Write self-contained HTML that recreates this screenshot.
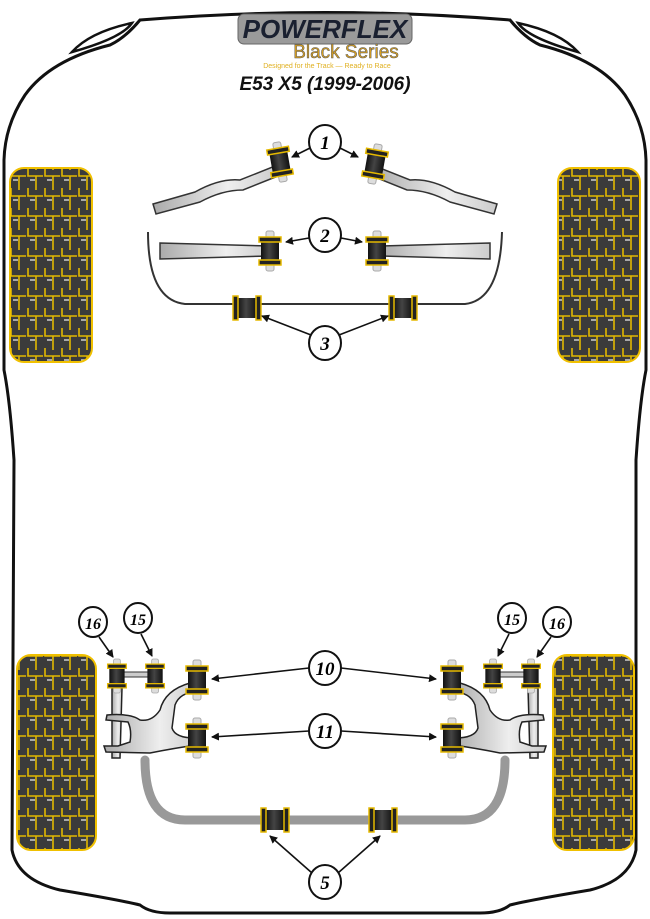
<!DOCTYPE html>
<html><head><meta charset="utf-8"><style>
html,body{margin:0;padding:0;background:#fff;}
svg{display:block;}
.n{font-family:"Liberation Serif",serif;font-weight:bold;font-style:italic;font-size:19px;text-anchor:middle;}
</style></head><body>
<svg width="650" height="919" viewBox="0 0 650 919" xmlns="http://www.w3.org/2000/svg">
<defs>
<pattern id="tread" width="17" height="20" patternUnits="userSpaceOnUse" x="10" y="168">
<rect width="17" height="20" fill="#3b3b3b"/>
<path d="M1 0 V8 H9 V20 M9 0 V2 M9 8 H16" stroke="#e2b800" stroke-width="1.6" fill="none"/>
<path d="M3 12 H8" stroke="#ccc" stroke-width="1.5"/>
</pattern>
<marker id="ar" markerWidth="8" markerHeight="8" refX="7" refY="4" orient="auto" markerUnits="userSpaceOnUse"><path d="M0 0 L8 4 L0 8 Z" fill="#111"/></marker>
<linearGradient id="bk" x1="0" x2="1"><stop offset="0" stop-color="#111"/><stop offset="0.45" stop-color="#444"/><stop offset="1" stop-color="#111"/></linearGradient>
<linearGradient id="gr" x1="0" x2="1"><stop offset="0" stop-color="#aaa"/><stop offset="0.6" stop-color="#eee"/><stop offset="1" stop-color="#ccc"/></linearGradient>
<g id="vb"><!-- vertical bush centered 0,0 -->
<rect x="-4" y="-20" width="8" height="40" rx="2" fill="#ddd" stroke="#aaa"/>
<rect x="-9" y="-12" width="18" height="24" fill="url(#bk)"/>
<rect x="-11" y="-14" width="22" height="5" fill="#222" stroke="#e5b900" stroke-width="1.5"/>
<rect x="-11" y="9" width="22" height="5" fill="#222" stroke="#e5b900" stroke-width="1.5"/>
</g>
<g id="hb"><!-- horizontal bush -->
<rect x="-10" y="-10" width="20" height="20" fill="url(#bk)"/>
<rect x="-14" y="-12" width="5" height="24" fill="#222" stroke="#e5b900" stroke-width="1.5"/>
<rect x="9" y="-12" width="5" height="24" fill="#222" stroke="#e5b900" stroke-width="1.5"/>
</g>
</defs>

<!-- body outline -->
<path d="M140 20 Q325 5 510 20 Q525 38 540 45 Q600 60 625 95 Q645 125 646 160 L646 370 Q640 400 636 460 L636 850 Q630 880 590 890 Q530 900 510 905 Q500 913 480 913 L170 913 Q150 913 140 905 Q120 900 60 890 Q18 880 12 850 L14 460 Q10 400 4 370 L4 160 Q5 125 25 95 Q50 60 110 45 Q125 38 140 20 Z" fill="none" stroke="#111" stroke-width="3"/>
<path d="M72 52 Q90 32 132 23 Q122 38 72 52 Z" fill="none" stroke="#111" stroke-width="2.5"/>
<path d="M578 52 Q560 32 518 23 Q528 38 578 52 Z" fill="none" stroke="#111" stroke-width="2.5"/>

<!-- logo -->
<rect x="238" y="14" width="174" height="30" rx="6" fill="#9a9a9a" stroke="#666"/>
<text x="325" y="38" text-anchor="middle" font-family="Liberation Sans,sans-serif" font-weight="bold" font-style="italic" font-size="26" fill="#1a2030">POWERFLEX</text>
<text x="346" y="58" text-anchor="middle" font-family="Liberation Sans,sans-serif" font-size="19" fill="#d9a020" stroke="#555" stroke-width="0.5">Black Series</text>
<text x="327" y="68" text-anchor="middle" font-family="Liberation Sans,sans-serif" font-size="7" fill="#e0b020">Designed for the Track — Ready to Race</text>
<text x="325" y="90" text-anchor="middle" font-family="Liberation Sans,sans-serif" font-weight="bold" font-style="italic" font-size="19" fill="#111">E53 X5 (1999-2006)</text>

<!-- tyres -->
<rect x="10" y="168" width="82" height="194" rx="14" fill="url(#tread)" stroke="#f0c000" stroke-width="2"/>
<rect x="558" y="168" width="82" height="194" rx="14" fill="url(#tread)" stroke="#f0c000" stroke-width="2"/>
<rect x="17" y="655" width="79" height="195" rx="14" fill="url(#tread)" stroke="#f0c000" stroke-width="2"/>
<rect x="553" y="655" width="81" height="195" rx="14" fill="url(#tread)" stroke="#f0c000" stroke-width="2"/>

<!-- bar 1 -->
<path d="M153 204 L195 192 Q220 178 240 180 L275 166 L278 176 L243 190 Q222 190 200 202 L156 214 Z" fill="url(#gr)" stroke="#333" stroke-width="1.5"/>
<path d="M497 204 L455 192 Q430 178 410 180 L375 166 L372 176 L407 190 Q428 190 450 202 L494 214 Z" fill="url(#gr)" stroke="#333" stroke-width="1.5"/>
<use href="#vb" x="280" y="162" transform="rotate(-10 280 162)"/>
<use href="#vb" x="375" y="164" transform="rotate(10 375 164)"/>

<!-- bar 2 -->
<path d="M148 232 Q148 300 185 304 L465 304 Q500 300 502 232" fill="none" stroke="#333" stroke-width="2"/>
<path d="M160 243 L270 246 L270 256 L160 259 Z" fill="url(#gr)" stroke="#333" stroke-width="1.5"/>
<path d="M490 243 L380 246 L380 256 L490 259 Z" fill="url(#gr)" stroke="#333" stroke-width="1.5"/>
<use href="#vb" x="270" y="251"/>
<use href="#vb" x="377" y="251"/>
<use href="#hb" x="247" y="308"/>
<use href="#hb" x="403" y="308"/>

<!-- lower arms -->
<g fill="url(#gr)" stroke="#222" stroke-width="1.5">
<path d="M112 688 L122 688 L120 758 L112 758 Z"/>
<path d="M107 715 Q130 713 140 720 Q152 722 160 710 Q165 690 190 683 L197 684 L197 692 Q180 692 175 705 L172 728 Q175 738 195 738 L197 745 Q175 748 150 753 L106 752 L104 746 L118 746 L130 742 Q132 730 128 722 L106 720 Z"/>
<path d="M538 688 L528 688 L530 758 L538 758 Z"/>
<path d="M543 715 Q520 713 510 720 Q498 722 490 710 Q485 690 460 683 L453 684 L453 692 Q470 692 475 705 L478 728 Q475 738 455 738 L453 745 Q475 748 500 753 L544 752 L546 746 L532 746 L520 742 Q518 730 522 722 L544 720 Z"/>
</g>
<rect x="120" y="672" width="30" height="5" fill="#ccc" stroke="#333"/>
<rect x="500" y="672" width="30" height="5" fill="#ccc" stroke="#333"/>
<use href="#vb" x="117" y="676" transform="scale(0.85) translate(20.6 119.3)"/>
<use href="#vb" x="155" y="676" transform="scale(0.85) translate(27.4 119.3)"/>
<use href="#vb" x="493" y="676" transform="scale(0.85) translate(87 119.3)"/>
<use href="#vb" x="531" y="676" transform="scale(0.85) translate(93.7 119.3)"/>
<use href="#vb" x="197" y="680"/>
<use href="#vb" x="452" y="680"/>
<use href="#vb" x="197" y="738"/>
<use href="#vb" x="452" y="738"/>

<!-- bar 5 -->
<path d="M145 760 Q145 820 185 820 L465 820 Q505 820 505 760" fill="none" stroke="#999" stroke-width="9" stroke-linecap="round"/>
<use href="#hb" x="275" y="820"/>
<use href="#hb" x="383" y="820"/>

<!-- arrows -->
<g stroke="#111" stroke-width="1.6" marker-end="url(#ar)" fill="none">
<line x1="310" y1="148" x2="292" y2="157"/>
<line x1="340" y1="148" x2="358" y2="157"/>
<line x1="309" y1="238" x2="286" y2="242"/>
<line x1="341" y1="238" x2="362" y2="242"/>
<line x1="311" y1="335" x2="262" y2="316"/>
<line x1="339" y1="335" x2="388" y2="316"/>
<line x1="309" y1="668" x2="212" y2="679"/>
<line x1="341" y1="668" x2="436" y2="679"/>
<line x1="309" y1="731" x2="212" y2="737"/>
<line x1="341" y1="731" x2="436" y2="737"/>
<line x1="99" y1="637" x2="113" y2="657"/>
<line x1="141" y1="634" x2="152" y2="656"/>
<line x1="509" y1="634" x2="498" y2="656"/>
<line x1="551" y1="637" x2="537" y2="657"/>
<line x1="312" y1="873" x2="270" y2="836"/>
<line x1="338" y1="873" x2="380" y2="836"/>
</g>

<!-- number circles -->
<g fill="#fff" stroke="#111" stroke-width="2">
<ellipse cx="325" cy="142" rx="16" ry="17"/>
<ellipse cx="325" cy="235" rx="16" ry="17"/>
<ellipse cx="325" cy="343" rx="16" ry="17"/>
<ellipse cx="325" cy="668" rx="16" ry="17"/>
<ellipse cx="325" cy="731" rx="16" ry="17"/>
<ellipse cx="325" cy="882" rx="16" ry="17"/>
<ellipse cx="93" cy="622" rx="14" ry="15"/>
<ellipse cx="138" cy="618" rx="14" ry="15"/>
<ellipse cx="512" cy="618" rx="14" ry="15"/>
<ellipse cx="557" cy="622" rx="14" ry="15"/>
</g>
<g class="n">
<text x="325" y="149">1</text>
<text x="325" y="242">2</text>
<text x="325" y="350">3</text>
<text x="325" y="675">10</text>
<text x="325" y="738">11</text>
<text x="325" y="889">5</text>
<text x="93" y="629" font-size="16">16</text>
<text x="138" y="625" font-size="16">15</text>
<text x="512" y="625" font-size="16">15</text>
<text x="557" y="629" font-size="16">16</text>
</g>
</svg>
</body></html>
